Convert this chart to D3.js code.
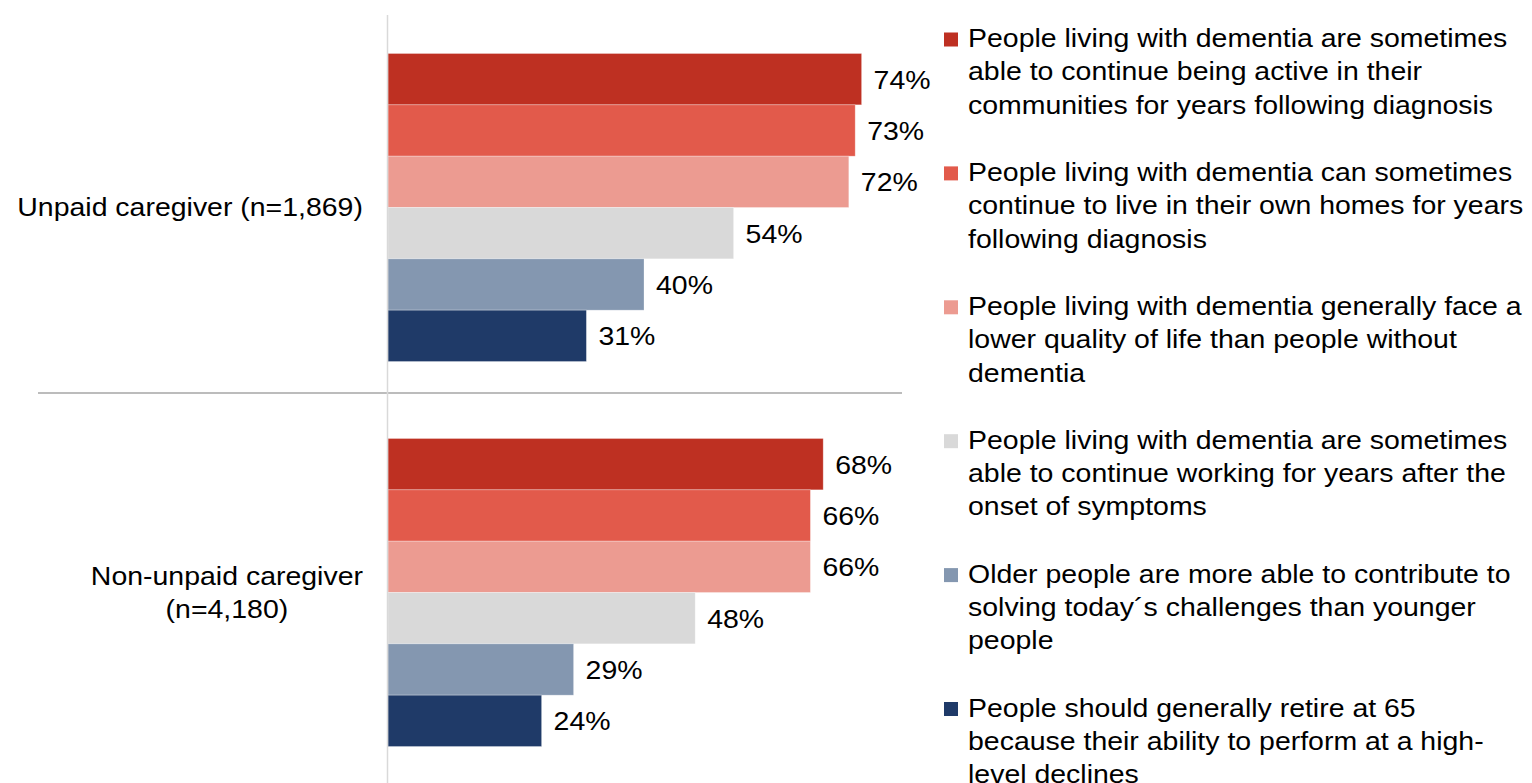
<!DOCTYPE html>
<html>
<head>
<meta charset="utf-8">
<script src="https://cdn.jsdelivr.net/npm/d3@7"></script>
<style>
  html, body { margin: 0; padding: 0; background: #fff; }
  svg { display: block; font-family: "Liberation Sans", Arial, sans-serif; }
</style>
</head>
<body>
<svg id="chart" width="1532" height="783"></svg>
<script>
// Respondent groups (category axis)
const groups = ["Unpaid caregiver (n=1,869)", "Non-unpaid caregiver (n=4,180)"];
const groupLines = [["Unpaid caregiver (n=1,869)"], ["Non-unpaid caregiver", "(n=4,180)"]];

// Statements (series), legend text split into lines
const seriesNames = [
  "People living with dementia are sometimes able to continue being active in their communities for years following diagnosis",
  "People living with dementia can sometimes continue to live in their own homes for years following diagnosis",
  "People living with dementia generally face a lower quality of life than people without dementia",
  "People living with dementia are sometimes able to continue working for years after the onset of symptoms",
  "Older people are more able to contribute to solving today´s challenges than younger people",
  "People should generally retire at 65 because their ability to perform at a high-level declines"
];
const legendLines = [
  ["People living with dementia are sometimes", "able to continue being active in their", "communities for years following diagnosis"],
  ["People living with dementia can sometimes", "continue to live in their own homes for years", "following diagnosis"],
  ["People living with dementia generally face a", "lower quality of life than people without", "dementia"],
  ["People living with dementia are sometimes", "able to continue working for years after the", "onset of symptoms"],
  ["Older people are more able to contribute to", "solving today´s challenges than younger", "people"],
  ["People should generally retire at 65", "because their ability to perform at a high-", "level declines"]
];
const seriesColors = ["#BE3022", "#E25A4B", "#EC9B91", "#D9D9D9", "#8497B0", "#1F3A68"];

// Percent agreeing, per group, in series order
const unpaidValues = [74, 73, 72, 54, 40, 31];
const nonUnpaidValues = [68, 66, 66, 48, 29, 24];
const values = [unpaidValues, nonUnpaidValues];

// text face is slightly wide: horizontal stretch factor and size
const SX = 1.095;
const FS = 26;

const svg = d3.select("#chart");

const x = d3.scaleLinear().domain([0, 100]).range([388, 1028]);
const y = d3.scaleBand().domain(groups).range([15, 785]).padding(0);
const ySub = d3.scaleBand().domain(seriesNames).range([0, y.bandwidth()])
  .paddingInner(0).paddingOuter(0.75);
const color = d3.scaleOrdinal().domain(seriesNames).range(seriesColors);

// separator between the two groups
svg.append("line")
  .attr("x1", 38).attr("x2", 902)
  .attr("y1", 393).attr("y2", 393)
  .attr("stroke", "#A6A6A6").attr("stroke-width", 1.5);

// bars and value labels
const gGroups = svg.selectAll("g.group").data(groups).join("g")
  .attr("class", "group")
  .attr("transform", d => `translate(0,${y(d)})`);

gGroups.each(function(g, gi) {
  const rows = seriesNames.map((s, si) => ({ s, v: values[gi][si] }));
  const sel = d3.select(this);
  sel.selectAll("rect").data(rows).join("rect")
    .attr("x", x(0))
    .attr("y", d => ySub(d.s))
    .attr("width", d => x(d.v) - x(0))
    .attr("height", ySub.bandwidth())
    .attr("fill", d => color(d.s))
    .attr("stroke", "rgba(255,255,255,0.35)")
    .attr("stroke-width", 0.8);
  sel.selectAll("g.val").data(rows).join("g")
    .attr("class", "val")
    .attr("transform", d => `translate(${x(d.v) + 12},${ySub(d.s) + ySub.bandwidth() / 2}) scale(${SX},1)`)
    .append("text")
    .attr("dy", "0.37em")
    .attr("font-size", FS)
    .attr("fill", "#000")
    .text(d => d.v + "%");
});

// category axis line
svg.append("line")
  .attr("x1", 387.5).attr("x2", 387.5)
  .attr("y1", 15).attr("y2", 783)
  .attr("stroke", "#D9D9D9").attr("stroke-width", 1.5);

// category labels: centred block whose widest line ends near the axis
const labelRight = 363;
groups.forEach((g, gi) => {
  const lines = groupLines[gi];
  const lh = 33;
  const cy = y(g) + y.bandwidth() / 2;
  const holder = svg.append("g");
  const t = holder.append("text")
    .attr("font-size", FS).attr("fill", "#000")
    .attr("text-anchor", "middle");
  const spans = lines.map((ln, i) => t.append("tspan")
    .attr("x", 0)
    .attr("y", (i - (lines.length - 1) / 2) * lh)
    .attr("dy", "0.34em")
    .text(ln));
  const maxW = d3.max(spans, s => s.node().getComputedTextLength()) * SX;
  holder.attr("transform", `translate(${labelRight - maxW / 2},${cy}) scale(${SX},1)`);
});

// legend: first-line baselines
const legendX = 944, legendBase = 47, entryStep = 133.9, lineStep = 33.4;
const leg = svg.selectAll("g.legend").data(seriesNames).join("g")
  .attr("class", "legend")
  .attr("transform", (d, i) => `translate(${legendX},${legendBase + i * entryStep})`);
leg.append("rect")
  .attr("x", 0).attr("y", -14.5).attr("width", 14).attr("height", 14)
  .attr("fill", d => color(d));
leg.each(function(d, i) {
  const t = d3.select(this).append("g")
    .attr("transform", `translate(24,0) scale(${SX},1)`)
    .append("text")
    .attr("font-size", FS).attr("fill", "#000");
  legendLines[i].forEach((ln, li) => {
    t.append("tspan").attr("x", 0).attr("y", li * lineStep).text(ln);
  });
});
</script>
</body>
</html>
